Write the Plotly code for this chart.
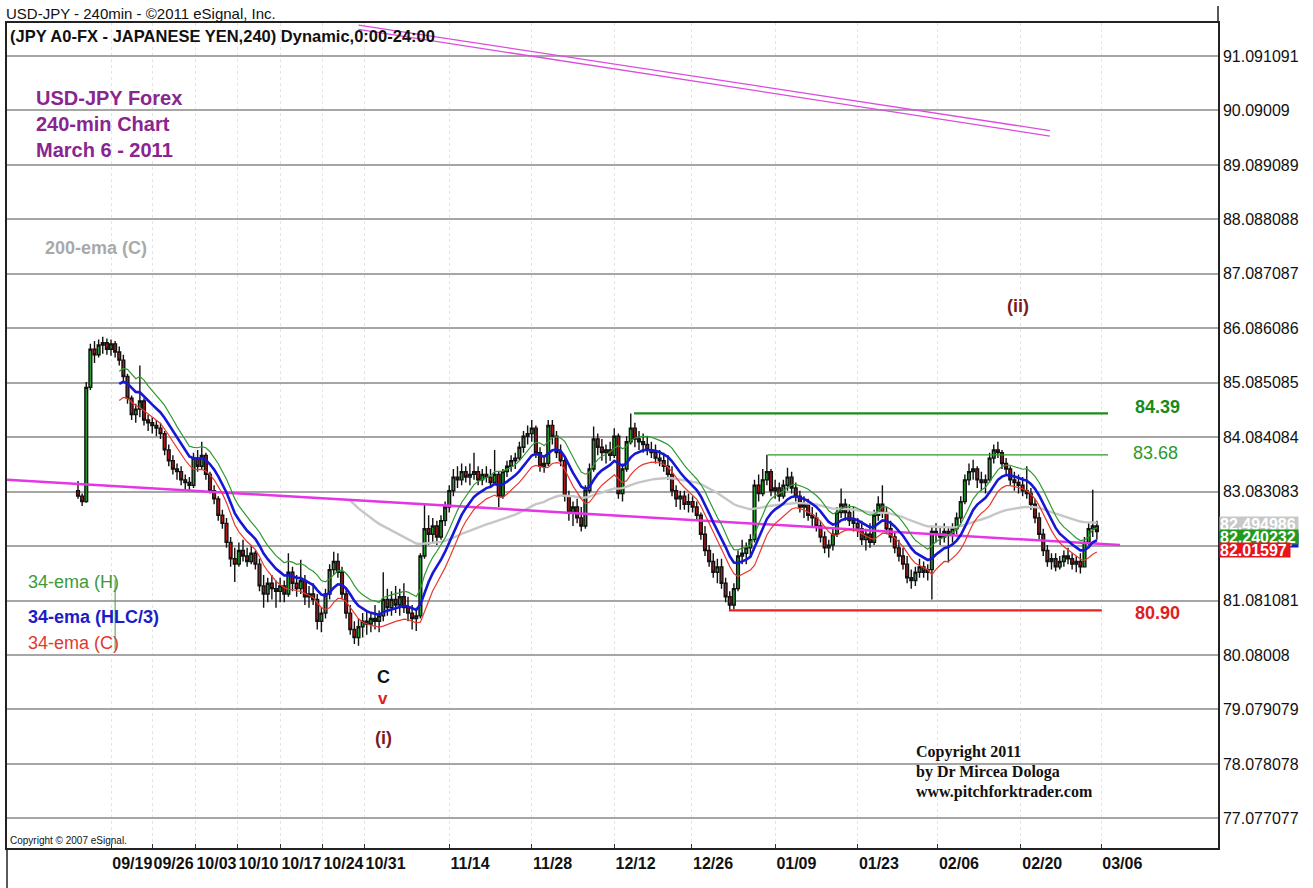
import numpy as np
import plotly.graph_objects as go

# ---------------- data (12-hour bars) ----------------
first_open = 83.10
closes = [
    83.00, 82.90, 85.00, 85.70, 85.60, 85.78, 85.82, 85.70, 85.80, 85.65,
    85.50, 85.20, 84.80, 84.50, 84.60, 84.75, 84.40, 84.35, 84.30, 84.25,
    84.15, 83.85, 83.65, 83.50, 83.45, 83.30, 83.25, 83.20, 83.70, 83.55,
    83.75, 83.40, 83.10, 82.95, 82.65, 82.50, 82.15, 81.85, 81.75, 82.00,
    81.90, 81.80, 81.95, 81.75, 81.35, 81.20, 81.40, 81.30, 81.25, 81.35,
    81.20, 81.60, 81.40, 81.30, 81.45, 81.15, 81.20, 81.10, 80.70, 80.85,
    81.20, 81.65, 81.80, 81.60, 81.20, 80.85, 80.55, 80.40, 80.60, 80.70,
    80.65, 80.75, 80.70, 80.80, 81.10, 80.95, 81.10, 81.00, 81.15, 80.95,
    80.85, 80.75, 80.80, 81.90, 82.40, 82.30, 82.45, 82.25, 82.55, 82.80,
    83.10, 83.35, 83.30, 83.45, 83.35, 83.40, 83.45, 83.30, 83.40, 83.35,
    83.25, 83.40, 83.00, 83.45, 83.55, 83.65, 83.70, 83.90, 84.10, 84.15,
    84.25, 83.80, 83.55, 83.60, 84.30, 84.10, 83.80, 83.65, 83.00, 82.70,
    82.80, 82.60, 82.45, 83.10, 83.50, 84.05, 83.90, 83.80, 83.85, 83.75,
    84.10, 83.05, 83.50, 84.00, 84.25, 84.05, 84.00, 83.95, 83.85, 83.80,
    83.70, 83.65, 83.55, 83.40, 83.10, 82.95, 83.00, 82.85, 82.90, 82.80,
    82.65, 82.30, 82.00, 81.80, 81.60, 81.70, 81.40, 81.15, 81.00, 81.30,
    81.90, 81.95, 82.05, 82.20, 83.20, 83.05, 83.30, 83.45, 83.10, 83.15,
    83.00, 83.20, 83.35, 83.15, 83.00, 82.80, 82.85, 82.65, 82.60, 82.45,
    82.25, 82.05, 82.10, 82.30, 82.70, 82.85, 82.70, 82.55, 82.50, 82.40,
    82.20, 82.30, 82.15, 82.65, 82.85, 82.70, 82.40, 82.25, 82.05, 81.90,
    81.75, 81.50, 81.45, 81.60, 81.70, 81.60, 81.65, 82.35, 82.30, 82.25,
    82.35, 82.30, 82.40, 82.60, 82.90, 83.30, 83.45, 83.50, 83.30, 83.25,
    83.30, 83.70, 83.85, 83.80, 83.60, 83.50, 83.30, 83.25, 83.20, 83.10,
    83.05, 82.85, 82.60, 82.30, 82.00, 81.80, 81.85, 81.70, 81.80, 81.90,
    81.85, 81.75, 81.80, 81.70, 82.15, 82.40, 82.45, 82.35,
]
highs = [
    83.28, 83.05, 85.10, 85.80, 85.85, 85.88, 85.93, 85.90, 85.88, 85.85,
    85.75, 85.60, 85.25, 84.85, 84.70, 85.40, 84.80, 84.50, 84.45, 84.40,
    84.35, 84.20, 83.95, 83.75, 83.60, 83.55, 83.40, 83.35, 83.80, 83.85,
    84.00, 83.80, 83.45, 83.20, 83.00, 82.75, 82.60, 82.25, 82.05, 82.15,
    82.20, 82.05, 82.10, 82.00, 81.85, 81.55, 81.50, 81.55, 81.45, 81.50,
    81.45, 81.95, 81.70, 81.55, 81.83, 81.55, 81.35, 81.40, 81.20, 80.95,
    81.30, 81.75, 81.98, 81.95, 81.70, 81.30, 81.00, 80.70, 80.75, 80.85,
    80.90, 80.85, 81.00, 80.90, 81.60, 81.30, 81.25, 81.35, 81.30, 81.40,
    81.15, 81.00, 80.95, 81.95, 82.84, 82.65, 82.60, 82.55, 82.65, 82.90,
    83.20, 83.50, 83.55, 83.60, 83.55, 83.60, 83.80, 83.55, 83.50, 83.55,
    83.50, 83.85, 83.45, 83.50, 83.65, 83.75, 83.80, 84.00, 84.20, 84.30,
    84.40, 84.30, 83.90, 83.70, 84.40, 84.40, 84.20, 83.95, 83.70, 83.10,
    82.90, 82.95, 82.80, 83.20, 83.60, 84.28, 84.15, 84.05, 83.95, 84.00,
    84.25, 84.15, 83.60, 84.10, 84.52, 84.35, 84.20, 84.15, 84.10, 84.00,
    83.95, 83.85, 83.80, 83.75, 83.55, 83.20, 83.10, 83.10, 83.05, 83.00,
    82.90, 82.70, 82.45, 82.10, 81.95, 81.85, 81.85, 81.50, 81.25, 81.40,
    82.00, 82.20, 82.15, 82.30, 83.30, 83.40, 83.50, 83.76, 83.50, 83.30,
    83.25, 83.30, 83.52, 83.45, 83.25, 83.10, 83.00, 82.95, 82.80, 82.70,
    82.55, 82.35, 82.20, 82.40, 82.80, 83.14, 82.95, 82.85, 82.80, 82.60,
    82.55, 82.40, 82.50, 82.75, 83.00, 83.20, 82.80, 82.55, 82.35, 82.20,
    82.05, 81.90, 81.65, 81.70, 81.85, 81.80, 81.75, 82.45, 82.50, 82.45,
    82.50, 82.45, 82.50, 82.70, 83.00, 83.40, 83.60, 83.67, 83.55, 83.45,
    83.40, 83.80, 83.95, 84.00, 83.85, 83.70, 83.55, 83.45, 83.40, 83.35,
    83.55, 83.15, 82.95, 82.70, 82.40, 82.10, 81.95, 81.95, 81.90, 82.00,
    82.05, 81.95, 81.90, 81.95, 82.25, 82.50, 83.12, 82.55,
]
lows = [
    82.95, 82.82, 82.88, 84.95, 85.45, 85.55, 85.62, 85.60, 85.58, 85.55,
    85.40, 85.10, 84.70, 84.40, 84.35, 84.45, 84.30, 84.20, 84.15, 84.10,
    84.05, 83.75, 83.55, 83.40, 83.30, 83.20, 83.10, 83.10, 83.15, 83.45,
    83.50, 83.30, 83.05, 82.85, 82.55, 82.40, 82.05, 81.70, 81.42, 81.70,
    81.80, 81.70, 81.75, 81.65, 81.25, 80.95, 81.05, 81.10, 80.95, 81.05,
    81.05, 81.15, 81.25, 81.15, 81.20, 81.00, 80.95, 81.00, 80.55, 80.50,
    80.75, 81.10, 81.55, 81.50, 81.10, 80.75, 80.45, 80.28, 80.25, 80.40,
    80.45, 80.50, 80.55, 80.50, 80.70, 80.80, 80.80, 80.85, 80.80, 80.85,
    80.70, 80.55, 80.52, 80.75, 81.85, 82.10, 82.15, 82.10, 82.20, 82.45,
    82.70, 83.00, 83.15, 83.20, 83.25, 83.20, 83.30, 83.20, 83.20, 83.25,
    83.15, 83.20, 82.80, 82.95, 83.35, 83.45, 83.50, 83.65, 83.80, 83.95,
    84.00, 83.70, 83.45, 83.43, 83.55, 83.95, 83.70, 83.55, 82.90, 82.55,
    82.45, 82.50, 82.35, 82.40, 83.05, 83.45, 83.75, 83.65, 83.60, 83.65,
    83.70, 82.95, 82.90, 83.45, 83.95, 83.90, 83.85, 83.80, 83.75, 83.70,
    83.60, 83.55, 83.45, 83.30, 83.00, 82.80, 82.75, 82.75, 82.70, 82.70,
    82.55, 82.20, 81.90, 81.70, 81.50, 81.40, 81.30, 81.05, 80.90, 80.92,
    81.25, 81.75, 81.75, 81.90, 82.15, 82.90, 83.00, 83.20, 83.00, 82.95,
    82.90, 82.95, 83.10, 83.05, 82.90, 82.70, 82.60, 82.55, 82.45, 82.35,
    82.15, 81.95, 81.87, 82.00, 82.25, 82.60, 82.55, 82.45, 82.35, 82.25,
    82.10, 82.00, 82.05, 82.10, 82.55, 82.60, 82.30, 82.15, 81.95, 81.80,
    81.65, 81.40, 81.30, 81.35, 81.50, 81.50, 81.45, 81.10, 82.15, 82.10,
    82.15, 81.78, 82.15, 82.30, 82.50, 82.85, 83.20, 83.30, 83.15, 83.10,
    83.05, 83.25, 83.60, 83.70, 83.50, 83.40, 83.20, 83.10, 83.05, 83.00,
    82.95, 82.75, 82.50, 82.20, 81.90, 81.70, 81.65, 81.62, 81.65, 81.70,
    81.75, 81.65, 81.60, 81.58, 81.70, 82.10, 82.25, 82.20,
]

tick_pos = [5, 10, 15.2, 20.3, 25.5, 30.6, 35.7, 46, 56, 66, 75.4, 85.5, 95.5, 105.2, 115.3, 125]
tick_labels = ["09/19", "09/26", "10/03", "10/10", "10/17", "10/24", "10/31", "11/14",
               "11/28", "12/12", "12/26", "01/09", "01/23", "02/06", "02/20", "03/06"]
price_ticks = [91.091091, 90.09009, 89.089089, 88.088088, 87.087087, 86.086086, 85.085085,
               84.084084, 83.083083, 82.082082, 81.081081, 80.08008, 79.079079, 78.078078, 77.077077]
price_tick_text = ["91.091091", "90.09009", "89.089089", "88.088088", "87.087087", "86.086086",
                   "85.085085", "84.084084", "83.083083", "", "81.081081", "80.08008",
                   "79.079079", "78.078078", "77.077077"]

# horizontal level lines: label, drawn price, start bar, end bar
level_labels = ["84.39", "83.68", "80.90"]
level_prices = [84.52, 83.76, 80.90]
level_start = [68.4, 84.6, 79.9]
level_end = [125.85, 125.85, 125.1]

# trend / pitchfork lines (bar, price endpoints)
median_line_x = [-7.6, 127.3]
median_line_y = [83.30, 82.10]
upper_line_a_x = [35.0, 118.8]
upper_line_a_y = [91.66, 89.72]
upper_line_b_x = [35.0, 118.8]
upper_line_b_y = [91.58, 89.62]

# last indicator values printed on the price scale
last_ema200 = 82.494986
last_ema_h = 82.240232
last_ema_c = 82.01597

# ---------------- derived ----------------
closes = np.array(closes, float)
highs = np.array(highs, float)
lows = np.array(lows, float)
opens = np.concatenate([[first_open], closes[:-1]])
xbar = 1.0 + 0.5 * np.arange(len(closes))

BARS_PER_4H = 3  # 12h bars vs 4h bars


def ema(vals, n):
    vals = np.asarray(vals, float)
    out = np.full(len(vals), np.nan)
    a = 2.0 / (n + 1)
    out[n - 1] = vals[:n].mean()
    for i in range(n, len(vals)):
        out[i] = a * vals[i] + (1 - a) * out[i - 1]
    return out


n34 = round(34 / BARS_PER_4H)
n200 = round(200 / BARS_PER_4H)
ema_h = ema(highs, n34)
ema_hlc = ema((highs + lows + closes) / 3.0, n34)
# the red band in the picture runs below the HLC/3 line throughout, like the lower channel
ema_lo = ema(lows, n34)
ema_200 = ema(closes, n200)

# ---------------- figure ----------------
ARIAL = "Arial, Liberation Sans, sans-serif"
SERIF = "Times New Roman, Liberation Serif, serif"
L, R, T, B = 7, 1218, 23, 848


def px(x):
    return (x - L) / (R - L)


def py(y):
    return (B - y) / (B - T)


fig = go.Figure()

fig.add_trace(go.Candlestick(
    x=xbar, open=opens, high=highs, low=lows, close=closes,
    increasing=dict(line=dict(color="#111111", width=1.4), fillcolor="#22a329"),
    decreasing=dict(line=dict(color="#111111", width=1.4), fillcolor="#b3161b"),
    whiskerwidth=0, showlegend=False, hoverinfo="skip",
))

fig.add_trace(go.Scatter(x=xbar, y=ema_200, mode="lines",
                         line=dict(color="#c6c6c6", width=2.4), hoverinfo="skip"))
fig.add_trace(go.Scatter(x=median_line_x, y=median_line_y, mode="lines",
                         line=dict(color="#e536e5", width=2.5), hoverinfo="skip"))
fig.add_trace(go.Scatter(x=upper_line_a_x, y=upper_line_a_y, mode="lines",
                         line=dict(color="#dc4cdc", width=1.3), hoverinfo="skip"))
fig.add_trace(go.Scatter(x=upper_line_b_x, y=upper_line_b_y, mode="lines",
                         line=dict(color="#dc4cdc", width=1.3), hoverinfo="skip"))
fig.add_trace(go.Scatter(x=xbar, y=ema_h, mode="lines",
                         line=dict(color="#2f9a2f", width=1.2), hoverinfo="skip"))
fig.add_trace(go.Scatter(x=xbar, y=ema_lo, mode="lines",
                         line=dict(color="#e8392f", width=1.2), hoverinfo="skip"))
fig.add_trace(go.Scatter(x=xbar, y=ema_hlc, mode="lines",
                         line=dict(color="#1717d6", width=2.6), hoverinfo="skip"))

level_colors = ["#1a8c1a", "#2a9a2a", "#e82020"]
level_widths = [2.2, 1.3, 2.2]
for lp, ls, le, lc, lw in zip(level_prices, level_start, level_end, level_colors, level_widths):
    fig.add_trace(go.Scatter(x=[ls, le], y=[lp, lp], mode="lines",
                             line=dict(color=lc, width=lw), hoverinfo="skip"))

shapes = [
    # left frame continues to the bottom of the picture
    dict(type="line", xref="paper", yref="paper", x0=0, x1=0, y0=0, y1=py(888),
         line=dict(color="#222", width=1.5)),
    # right scale line continues above the frame
    dict(type="line", xref="paper", yref="paper", x0=1, x1=1, y0=1, y1=py(6),
         line=dict(color="#222", width=1.5)),
    # stray green marker line seen at the left
    dict(type="line", xref="x", yref="y", x0=5.5, x1=5.5, y0=81.47, y1=80.18,
         line=dict(color="#3aa03a", width=1)),
]

annotations = []


def note(text, x, y, size, color, bold=False, anchor="left", family=ARIAL):
    if bold:
        text = "<b>" + text + "</b>"
    annotations.append(dict(
        text=text, x=px(x), y=py(y), xref="paper", yref="paper",
        xanchor=anchor, yanchor="middle", showarrow=False,
        font=dict(family=family, size=size, color=color)))


note("USD-JPY - 240min - ©2011 eSignal, Inc.", 4, 14, 15, "#111111")
note("(JPY A0-FX - JAPANESE YEN,240) Dynamic,0:00-24:00", 8, 36, 16.5, "#111111", bold=True)
note("USD-JPY Forex", 34, 98, 20, "#8a2590", bold=True)
note("240-min Chart", 34, 124, 20, "#8a2590", bold=True)
note("March 6 - 2011", 34, 150, 20, "#8a2590", bold=True)
note("200-ema (C)", 43, 248, 18, "#a9a9a9", bold=True)
note("34-ema (H)", 26, 582, 18, "#3c9a3c")
note("34-ema (HLC/3)", 26, 617, 18, "#1c1cc8", bold=True)
note("34-ema (C)", 26, 643, 18, "#e03a30")
note("C", 383, 677, 18, "#111111", bold=True, anchor="center")
note("v", 383, 698, 17, "#e02020", bold=True, anchor="center")
note("(i)", 383, 738, 18, "#7a1a22", bold=True, anchor="center")
note("(ii)", 1018, 306, 18, "#7a1a22", bold=True, anchor="center")
note(level_labels[0], 1157, 407, 18, "#1a8a1a", bold=True, anchor="center")
note(level_labels[1], 1155, 453, 18, "#2a9a2a", anchor="center")
note(level_labels[2], 1157, 613, 18, "#e02020", bold=True, anchor="center")
note("Copyright 2011", 914, 752, 16, "#111111", bold=True, family=SERIF)
note("by Dr Mircea Dologa", 914, 772, 16, "#111111", bold=True, family=SERIF)
note("www.pitchforktrader.com", 914, 792, 16, "#111111", bold=True, family=SERIF)
note("Copyright © 2007 eSignal.", 8, 840, 10, "#111111")

# value boxes on the price scale
for val, txt, bg, w in [
    (ema_hlc[-1], f"{ema_hlc[-1]:.6f}", "#1717d6", 78),
    (last_ema200, f"{last_ema200:.6f}", "#c8c8c8", 78),
    (last_ema_h, f"{last_ema_h:.6f}", "#1f9a1f", 78),
    (last_ema_c, f"{last_ema_c:.5f}", "#e8141c", 70),
]:
    annotations.append(dict(
        text="<b>" + txt + "</b>", x=1, y=val, xref="paper", yref="y",
        xanchor="left", yanchor="middle", xshift=1, showarrow=False,
        bgcolor=bg, borderpad=0, width=w, height=14, align="left",
        font=dict(family=ARIAL, size=16, color="#ffffff")))

fig.update_layout(
    width=1313, height=888,
    margin=dict(l=L, r=1313 - R, t=T, b=888 - B, autoexpand=False),
    paper_bgcolor="white", plot_bgcolor="white",
    showlegend=False, boxgap=0.05,
    shapes=shapes, annotations=annotations,
    xaxis=dict(
        range=[(L - 69.75) / 8.25, (R - 69.75) / 8.25],
        tickmode="array", tickvals=tick_pos, ticktext=tick_labels,
        ticklabelposition="outside right", tickangle=0, automargin=False,
        tickfont=dict(family=ARIAL, size=16, color="#111111", weight="bold"),
        ticks="inside", ticklen=4, tickcolor="#333",
        showgrid=True, gridcolor="#e4e4e4", griddash="dot", gridwidth=1,
        showline=True, linecolor="#222", linewidth=1.5, mirror=True,
        zeroline=False, rangeslider=dict(visible=False), fixedrange=True,
    ),
    yaxis=dict(
        side="right", range=[76.532, 91.698], automargin=False,
        tickmode="array", tickvals=price_ticks, ticktext=price_tick_text,
        tickfont=dict(family=ARIAL, size=16, color="#111111"),
        ticks="", showgrid=True, gridcolor="#a6a6a6", gridwidth=1.5,
        showline=True, linecolor="#222", linewidth=1.5, mirror=True,
        zeroline=False, fixedrange=True,
    ),
)

fig.write_html("out.html", config={"displayModeBar": False},
               post_script="document.body.style.margin='0px';")
